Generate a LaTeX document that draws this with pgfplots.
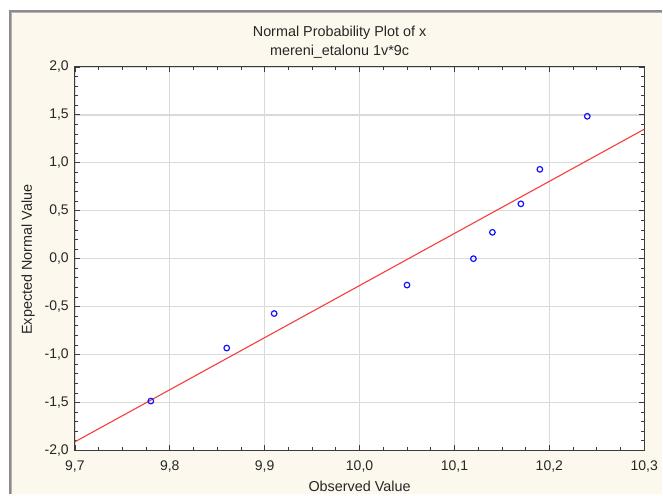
\documentclass[border=0pt]{standalone}
\usepackage{fontspec}
\setmainfont{Liberation Sans}
\usepackage{pgfplots}
\pgfplotsset{compat=1.18}

\definecolor{cream}{RGB}{253,248,237}
\definecolor{gridgray}{RGB}{218,218,218}
\definecolor{axisgray}{RGB}{60,60,60}
\definecolor{fitred}{RGB}{250,60,60}
\definecolor{ptblue}{RGB}{20,20,250}

\begin{document}
\begin{tikzpicture}
% frame and background
\fill[white] (0,0) rectangle (663pt,495pt);
\fill[cream] (9pt,0) rectangle (663pt,485pt);
\draw[line width=1.6pt, color=black!45] (9.8pt,0) -- (9.8pt,484.2pt) -- (663pt,484.2pt);
\draw[line width=1.4pt, color=black!30] (11.3pt,0) -- (11.3pt,482.7pt) -- (663pt,482.7pt);
\useasboundingbox (0,0) rectangle (663pt,495pt);

\begin{axis}[
  scale only axis,
  width=570pt, height=384pt,
  at={(75pt,44pt)}, anchor=south west,
  axis background/.style={fill=white},
  xmin=9.7, xmax=10.3,
  ymin=-2, ymax=2,
  xtick={9.7,9.8,9.9,10.0,10.1,10.2,10.3},
  ytick={-2,-1.5,-1,-0.5,0,0.5,1,1.5,2},
  minor x tick num=3,
  minor y tick num=4,
  tick pos=both,
  tick align=inside,
  major tick length=5pt,
  minor tick length=3pt,
  tick style={color=axisgray, line width=0.8pt},
  axis line style={color=axisgray, line width=1pt},
  xmajorgrids, ymajorgrids,
  major grid style={color=gridgray, line width=1.3pt},
  /pgf/number format/assume math mode=true,
  /pgf/number format/use comma,
  /pgf/number format/fixed,
  /pgf/number format/fixed zerofill,
  /pgf/number format/precision=1,
  tick label style={font=\fontsize{14}{16}\selectfont, text=black!85},
  yticklabel style={anchor=east, inner sep=0pt, xshift=-6pt},
  xticklabel style={anchor=north, inner sep=0pt, yshift=-10pt},
]
% fitted line
\addplot[color=fitred, line width=1.1pt] coordinates {
  (9.7,-1.91) (10.3,1.35)
};
% observations vs expected normal values
\addplot[only marks, mark=o, mark size=2.8pt, color=ptblue, mark options={line width=1.2pt}] table {
x y
9.78 -1.485
9.86 -0.932
9.91 -0.572
10.05 -0.275
10.12 0.000
10.14 0.275
10.17 0.572
10.19 0.932
10.24 1.485
};
\end{axis}

% titles and labels
\node[font=\fontsize{14.4}{16}\selectfont, text=black!85, anchor=base] at (340pt,458pt) {Normal Probability Plot of x};
\node[font=\fontsize{14.4}{16}\selectfont, text=black!85, anchor=base] at (340pt,439pt) {mereni\_etalonu 1v*9c};
\node[font=\fontsize{14.4}{16}\selectfont, text=black!85, anchor=base, rotate=90] at (32pt,235pt) {Expected Normal Value};
\node[font=\fontsize{14.4}{16}\selectfont, text=black!85, anchor=base] at (360pt,2.5pt) {Observed Value};
\end{tikzpicture}
\end{document}
